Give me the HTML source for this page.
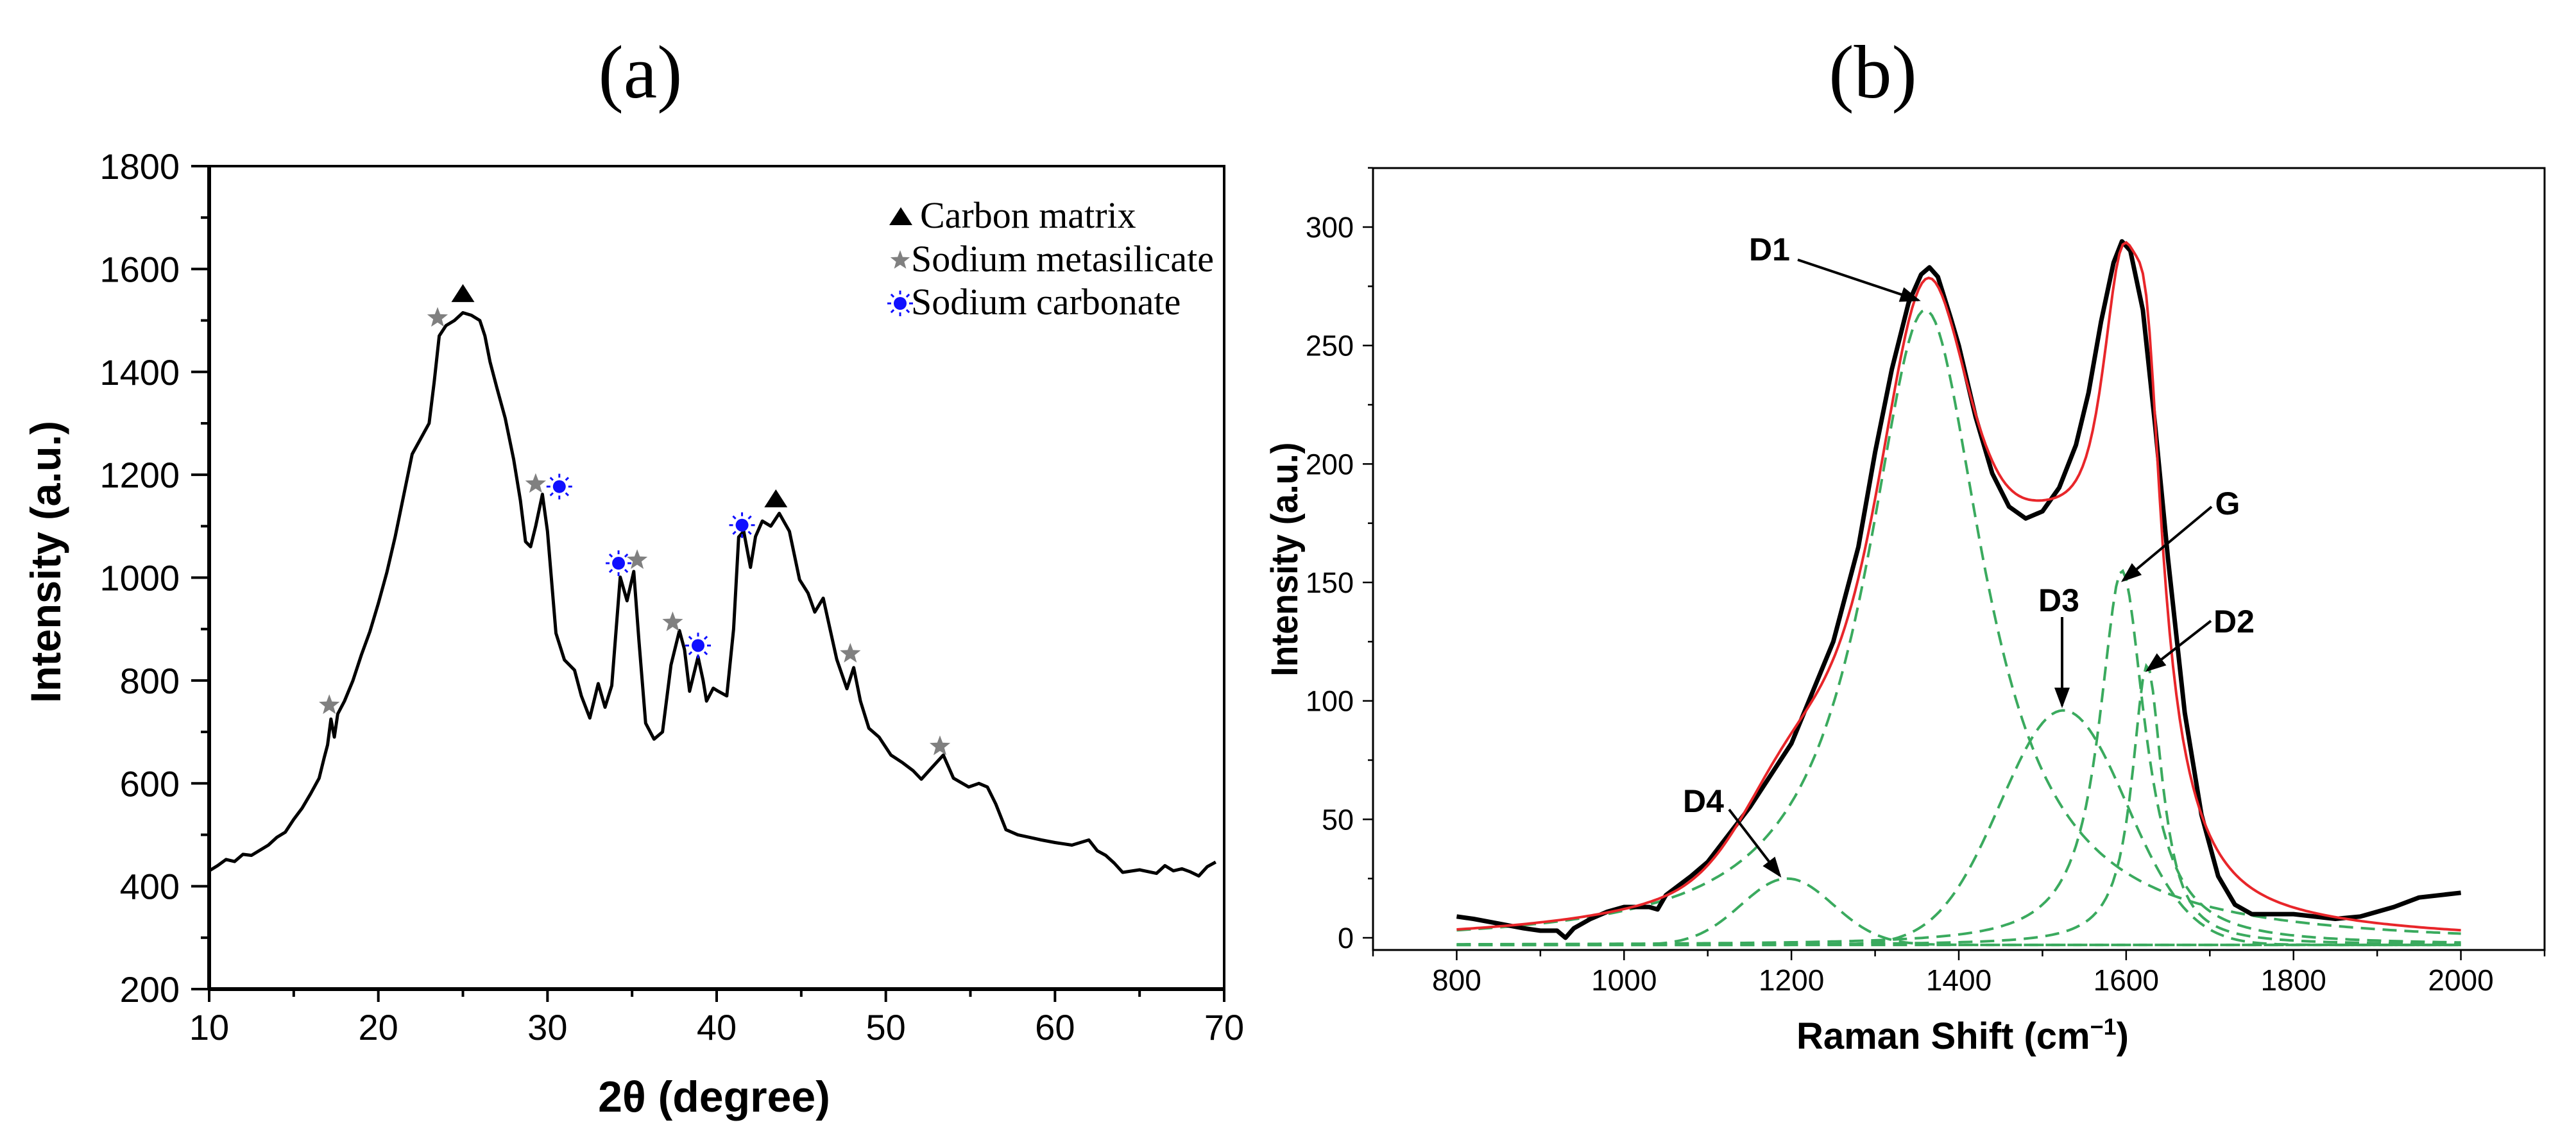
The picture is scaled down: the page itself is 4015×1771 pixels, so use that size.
<!DOCTYPE html>
<html><head><meta charset="utf-8"><style>
html,body{margin:0;padding:0;background:#fff;}
svg{display:block;}
</style></head><body>
<svg id="fig" width="4015" height="1771" viewBox="0 0 4015 1771" xmlns="http://www.w3.org/2000/svg" font-family="Liberation Sans, Arial, sans-serif">
<rect x="0" y="0" width="4015" height="1771" fill="#fff"/>
<text x="998" y="152" style="font-family:'Liberation Serif',serif;font-size:118px" text-anchor="middle">(a)</text>
<text x="2919" y="152" style="font-family:'Liberation Serif',serif;font-size:118px" text-anchor="middle">(b)</text>
<g id="chartA"></g>
<g id="chartB"></g>
</svg>
<script>
// ---------- Chart A data (XRD) ----------
const xrdTheta = [10,10.5,11,11.5,12,12.5,13,13.5,14,14.5,15,15.5,16,16.5,16.8,17,17.2,17.4,17.6,18,18.5,19,19.5,20,20.5,21,21.5,22,22.5,23,23.3,23.6,24,24.5,25,25.5,26,26.3,26.6,27,27.5,28,28.4,28.7,29,29.3,29.7,30,30.5,31,31.6,32,32.5,33,33.4,33.8,34.3,34.7,35.1,35.4,35.8,36.3,36.8,37.3,37.8,38.1,38.4,38.9,39.2,39.4,39.8,40.1,40.6,41,41.3,41.6,42,42.3,42.7,43.2,43.7,44.3,44.9,45.4,45.8,46.3,46.7,47.1,47.7,48.1,48.5,49,49.6,50.3,51,51.6,52.1,52.7,53.4,54,54.9,55.5,56,56.5,57.1,57.8,58.5,59.2,60,61,62,62.5,63,63.5,64,65,66,66.5,67,67.5,68,68.5,69,69.5,70];
const xrdIntensity = [430,440,452,448,462,460,470,480,495,505,530,552,580,610,650,675,725,690,735,760,800,850,895,950,1010,1080,1160,1240,1270,1300,1380,1470,1490,1500,1515,1510,1500,1470,1420,1370,1310,1230,1150,1070,1060,1100,1162,1090,892,840,820,770,727,794,748,790,1001,955,1012,880,717,686,700,830,897,860,779,846,800,760,785,779,770,900,1079,1090,1020,1080,1110,1100,1125,1090,996,970,933,960,900,841,784,825,760,707,690,655,640,625,608,630,655,610,593,600,593,560,510,500,495,490,485,480,490,469,460,445,427,432,425,440,430,434,428,420,438,447];
const xrdYTicks = [200,400,600,800,1000,1200,1400,1600,1800];
const xrdXTicks = [10,20,30,40,50,60,70];
const starTheta = [17.1,23.5,29.3,35.3,37.4,47.9,53.2];
const starInt = [752,1505,1182,1034,913,852,672];
const sunTheta = [30.7,34.2,38.9,41.5];
const sunInt = [1177,1028,868,1102];
const triTheta = [25.0,43.5];
const triInt = [1552,1153];

// ---------- Chart B data (Raman) ----------
const ramanShift = [800,820,850,880,900,920,930,940,960,980,1000,1030,1040,1050,1080,1100,1150,1200,1250,1280,1300,1320,1340,1355,1365,1375,1390,1400,1420,1440,1460,1480,1500,1520,1540,1555,1570,1585,1595,1605,1620,1635,1650,1670,1690,1710,1730,1750,1800,1850,1880,1920,1950,2000];
const ramanIntensity = [9,8,6,4,3,3,0,4,8,11,13,13,12,18,26,32,55,82,125,165,205,240,268,280,283,279,262,250,220,196,182,177,180,190,208,230,260,285,294,290,265,215,160,95,52,26,14,10,10,8,9,13,17,19];
const peakNames = ["D4","D1","D3","G","D2"];
const peakCenters = [1195,1360,1525,1595,1625];
const peakHeights = [28,268,99,158,118];
const peakWidths = [55,86,75,33,22];
const peakShapes = ["gauss","lorentz","gauss","lorentz","lorentz"];
const baselineLevel = [-3];
const ramanYTicks = [0,50,100,150,200,250,300];
const ramanXTicks = [800,1000,1200,1400,1600,1800,2000];

const NS = "http://www.w3.org/2000/svg";
function mk(tag, attrs, parent){
  const e = document.createElementNS(NS, tag);
  for (const k in attrs) e.setAttribute(k, attrs[k]);
  parent.appendChild(e);
  return e;
}
const NARROW = "font-family:'Liberation Sans Narrow','Liberation Sans',sans-serif;font-weight:bold;";

// ===== Chart A =====
(function(){
  const g = document.getElementById('chartA');
  const L=326,R=1908,T=259,B=1542;
  const xA = v => L + (v-10)*(R-L)/60;
  const yA = v => B - (v-200)*(B-T)/1600;
  let f = mk('rect',{x:L,y:T,width:R-L,height:B-T,fill:'none',stroke:'#000','stroke-width':4},g);
  
  
  mk('line',{x1:L,y1:T-2,x2:L,y2:B+2,stroke:'#000','stroke-width':6},g);
  mk('line',{x1:L-2,y1:B,x2:R+2,y2:B,stroke:'#000','stroke-width':6},g);
  for (let v=200; v<=1800; v+=100){
    const major = v%200===0;
    mk('line',{x1:L-(major?28:13),y1:yA(v),x2:L,y2:yA(v),stroke:'#000','stroke-width':4},g);
  }
  xrdYTicks.forEach(v=>{
    const t = mk('text',{x:280,y:yA(v)+20,'font-size':56,'text-anchor':'end'},g);
    t.textContent = v;
    
    
  });
  for (let v=10; v<=70; v+=5){
    const major = v%10===0;
    mk('line',{x1:xA(v),y1:B,x2:xA(v),y2:B+(major?20:12),stroke:'#000','stroke-width':4},g);
  }
  xrdXTicks.forEach(v=>{
    const t = mk('text',{x:xA(v),y:1621,'font-size':56,'text-anchor':'middle'},g);
    t.textContent = v;
    
    
  });
  let t = mk('text',{x:1113,y:1733,'text-anchor':'middle',style:NARROW+'font-size:68px'},g);
  t.textContent = '2θ (degree)';
  
  
  t = mk('text',{x:0,y:0,'text-anchor':'middle',style:NARROW+'font-size:66px',transform:'translate(94,876) rotate(-90)',textLength:440,lengthAdjust:'spacingAndGlyphs'},g);
  t.textContent = 'Intensity (a.u.)';
  
  
  const d = xrdTheta.map((v,i)=>(i?'L':'M')+xA(v).toFixed(1)+','+yA(xrdIntensity[i]).toFixed(1)).join(' ');
  const p = mk('path',{d:d,fill:'none',stroke:'#000','stroke-width':5,'stroke-linejoin':'round'},g);
  
  
  function star(cx,cy,r,parent){
    let pts=[];
    for(let i=0;i<10;i++){const a=-Math.PI/2+i*Math.PI/5;const rr=i%2?r*0.42:r;pts.push((cx+rr*Math.cos(a)).toFixed(1)+','+(cy+rr*Math.sin(a)).toFixed(1));}
    return mk('polygon',{points:pts.join(' '),fill:'#808080'},parent);
  }
  function sun(cx,cy,parent){
    const s = mk('g',{},parent);
    mk('circle',{cx:cx,cy:cy,r:10,fill:'#1010ff'},s);
    for(let i=0;i<8;i++){const a=i*Math.PI/4;
      mk('line',{x1:cx+14*Math.cos(a),y1:cy+14*Math.sin(a),x2:cx+20*Math.cos(a),y2:cy+20*Math.sin(a),stroke:'#1010ff','stroke-width':3},s);}
    return s;
  }
  function tri(cx,cy,parent){
    return mk('polygon',{points:`${cx},${cy-15} ${cx+18},${cy+13} ${cx-18},${cy+13}`,fill:'#000'},parent);
  }
  starTheta.forEach((v,i)=>{const s=star(xA(v),yA(starInt[i]),17,g);
    
    });
  sunTheta.forEach((v,i)=>{const s=sun(xA(v),yA(sunInt[i]),g);
    
    });
  triTheta.forEach((v,i)=>{const s=tri(xA(v),yA(triInt[i]),g);
    
    });
  const lg = mk('g',{},g);
  
  
  tri(1404,338,lg);
  star(1403,406,16,lg);
  sun(1403,473,lg);
  const labels=[['Carbon matrix',1434,355],['Sodium metasilicate',1420,423],['Sodium carbonate',1420,490]];
  labels.forEach(l=>{const e=mk('text',{x:l[1],y:l[2],style:"font-family:'Liberation Serif',serif;font-size:58px"},lg);e.textContent=l[0];
    
    });
})();

// ===== Chart B =====
(function(){
  const g = document.getElementById('chartB');
  const L=2140,R=3966,T=262,B=1481;
  const xB = v => L + (v-700)*(R-L)/1400;
  const yB = v => 1462 - v*(1462-354)/300;
  let f = mk('rect',{x:L,y:T,width:R-L,height:B-T,fill:'none',stroke:'#000','stroke-width':3},g);
  
  
  for (let v=0; v<=325; v+=25){
    const major = v%50===0;
    mk('line',{x1:L-(major?16:8),y1:yB(v),x2:L,y2:yB(v),stroke:'#000','stroke-width':2.5},g);
  }
  ramanYTicks.forEach(v=>{
    const t=mk('text',{x:2110,y:yB(v)+16,'font-size':45,'text-anchor':'end'},g);
    t.textContent=v;
    
    
  });
  for (let v=700; v<=2100; v+=100){
    const major = v%200===0;
    mk('line',{x1:xB(v),y1:B,x2:xB(v),y2:B+(major?16:10),stroke:'#000','stroke-width':2.5},g);
  }
  ramanXTicks.forEach(v=>{
    const t=mk('text',{x:xB(v),y:1544,'text-anchor':'middle',style:"font-family:'Liberation Sans Narrow','Liberation Sans',sans-serif;font-size:46px"},g);
    t.textContent=v;
    
    
  });
  let t=mk('text',{x:3059,y:1635,'text-anchor':'middle',style:NARROW+'font-size:58px'},g);
  t.innerHTML='Raman Shift (cm<tspan dy="-22" font-size="36">−1</tspan><tspan dy="22">)</tspan>';
  
  
  t=mk('text',{x:0,y:0,'text-anchor':'middle',style:NARROW+'font-size:58px',transform:'translate(2022,872) rotate(-90)',textLength:365,lengthAdjust:'spacingAndGlyphs'},g);
  t.textContent='Intensity (a.u.)';
  
  

  function peakVal(i,x){
    const u=(x-peakCenters[i])/peakWidths[i];
    return peakShapes[i]==='gauss' ? peakHeights[i]*Math.exp(-u*u/2) : peakHeights[i]/(1+u*u);
  }
  const xs=[]; for(let x=800;x<=2000;x+=4) xs.push(x);
  let bl = mk('path',{d:`M${xB(800)},${yB(baselineLevel[0])} L${xB(2000)},${yB(baselineLevel[0])}`,fill:'none',stroke:'#3aaa5e','stroke-width':4,'stroke-dasharray':'22 12'},g);
  
  
  peakNames.forEach((n,i)=>{
    const d=xs.map((x,k)=>(k?'L':'M')+xB(x).toFixed(1)+','+yB(baselineLevel[0]+peakVal(i,x)).toFixed(1)).join(' ');
    const p=mk('path',{d:d,fill:'none',stroke:'#3aaa5e','stroke-width':4,'stroke-dasharray':'22 12'},g);
    
    
  });
  const dm=ramanShift.map((x,k)=>(k?'L':'M')+xB(x).toFixed(1)+','+yB(ramanIntensity[k]).toFixed(1)).join(' ');
  const pm=mk('path',{d:dm,fill:'none',stroke:'#000','stroke-width':7,'stroke-linejoin':'round'},g);
  
  
  const df=xs.map((x,k)=>{let s=baselineLevel[0];peakNames.forEach((n,i)=>s+=peakVal(i,x));return (k?'L':'M')+xB(x).toFixed(1)+','+yB(s).toFixed(1);}).join(' ');
  const pf=mk('path',{d:df,fill:'none',stroke:'#e8262a','stroke-width':4},g);
  
  
  const defs=mk('defs',{},g);
  const mkr=mk('marker',{id:'ah',markerWidth:8,markerHeight:8,refX:7,refY:4,orient:'auto',markerUnits:'strokeWidth'},defs);
  mk('path',{d:'M0,1 L8,4 L0,7 Z',fill:'#000'},mkr);
  const ann=[['D1',2758,390,2802,405,2990,468],['G',3472,786,3447,790,3309,905],['D3',3209,937,3214,962,3214,1100],['D2',3482,970,3446,968,3347,1045],['D4',2655,1250,2695,1262,2774,1365]];
  ann.forEach(a=>{
    const tx=mk('text',{x:a[1],y:a[2]+16,'text-anchor':'middle',style:NARROW+'font-size:50px'},g);
    tx.textContent=a[0];
    
    
    const ln=mk('line',{x1:a[3],y1:a[4],x2:a[5],y2:a[6],stroke:'#000','stroke-width':4,'marker-end':'url(#ah)'},g);
    
    
  });
})();
</script>
</body></html>
